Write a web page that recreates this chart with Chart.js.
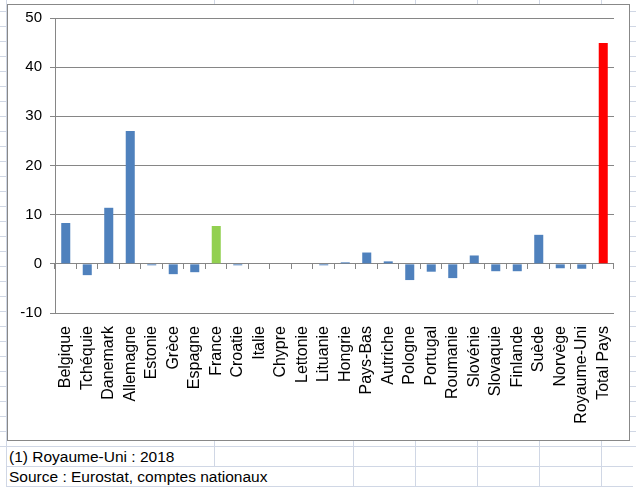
<!DOCTYPE html>
<html><head><meta charset="utf-8">
<script src="https://cdn.jsdelivr.net/npm/chart.js@4.4.1/dist/chart.umd.min.js"></script>
<style>
html,body{margin:0;padding:0;background:#fff;}
body{width:638px;height:495px;position:relative;overflow:hidden;font-family:"Liberation Sans",Arial,sans-serif;}
.rows{position:absolute;left:0;top:-3px;width:636px;height:450px;background:repeating-linear-gradient(to bottom,transparent 0,transparent 14px,#d0d7e5 14px,#d0d7e5 15px);}
.v{position:absolute;top:0;width:1px;background:#d0d7e5;}
.h{position:absolute;left:6px;width:627px;height:1px;background:#d0d7e5;}
.frame{position:absolute;left:7px;top:4px;width:623px;height:437px;box-sizing:border-box;border:1px solid #888;background:#fff;}
.note{position:absolute;left:9px;font-size:15.5px;line-height:20px;color:#000;white-space:nowrap;}
#wrap{position:absolute;left:0;top:0;width:638px;height:495px;}
</style>
</head><body>
<div class="rows"></div>
<div class="v" style="left:6px;height:487px"></div>
<div class="v" style="left:214px;height:466px"></div>
<div class="v" style="left:353px;height:487px"></div>
<div class="v" style="left:415px;height:487px"></div>
<div class="v" style="left:477px;height:487px"></div>
<div class="v" style="left:539px;height:487px"></div>
<div class="v" style="left:601px;height:487px"></div>
<div class="h" style="top:466px"></div>
<div class="h" style="top:486px"></div>
<div class="frame"></div>
<div class="note" style="top:447px">(1) Royaume-Uni : 2018</div>
<div class="note" style="top:467px">Source : Eurostat, comptes nationaux</div>
<div id="wrap"><canvas id="c"></canvas></div>
<script>
const categories = ["Belgique","Tchéquie","Danemark","Allemagne","Estonie","Grèce","Espagne","France","Croatie","Italie","Chypre","Lettonie","Lituanie","Hongrie","Pays-Bas","Autriche","Pologne","Portugal","Roumanie","Slovénie","Slovaquie","Finlande","Suède","Norvège","Royaume-Uni","Total Pays"];
const values = [8.3, -2.3, 11.4, 27.0, -0.3, -2.1, -1.7, 7.7, -0.3, 0, 0, 0, -0.3, 0.3, 2.3, 0.5, -3.3, -1.6, -2.9, 1.7, -1.5, -1.5, 5.9, -0.9, -1.0, 44.9];
const yTicks = [-10, 0, 10, 20, 30, 40, 50];

const BLUE = '#4f81bd', GREEN = '#92d050', RED = '#ff0000', GRID = '#868686';
const barColors = categories.map(c => c === 'France' ? GREEN : (c === 'Total Pays' ? RED : BLUE));

// Category-boundary tick marks hanging below the zero line (Excel-style axis crossing at 0)
const zeroAxisTicks = {
  id: 'zeroAxisTicks',
  afterDatasetsDraw(chart) {
    const xs = chart.scales.x, ys = chart.scales.y, ctx = chart.ctx;
    const y0 = Math.round(ys.getPixelForValue(0));
    const n = categories.length;
    ctx.save();
    ctx.strokeStyle = GRID;
    ctx.lineWidth = 1;
    ctx.beginPath();
    for (let i = 0; i <= n; i++) {
      let bx;
      if (i === 0) bx = xs.left;
      else if (i === n) bx = xs.right;
      else bx = (xs.getPixelForValue(i - 1) + xs.getPixelForValue(i)) / 2;
      bx = Math.round(bx) - 0.5;
      ctx.moveTo(bx, y0);
      ctx.lineTo(bx, y0 + 5);
    }
    ctx.stroke();
    ctx.restore();
  }
};

new Chart(document.getElementById('c'), {
  type: 'bar',
  data: {
    labels: categories,
    datasets: [{
      data: values,
      backgroundColor: barColors,
      borderWidth: 0,
      categoryPercentage: 1.0,
      barPercentage: 0.42
    }]
  },
  options: {
    responsive: true,
    maintainAspectRatio: false,
    animation: false,
    devicePixelRatio: 1,
    layout: { padding: { left: 0, right: 24, top: 18, bottom: 0 } },
    plugins: { legend: { display: false }, tooltip: { enabled: false } },
    scales: {
      x: {
        type: 'category',
        position: 'bottom',
        offset: true,
        grid: { display: false, drawTicks: false },
        border: { display: false },
        ticks: {
          autoSkip: false, minRotation: 90, maxRotation: 90, padding: 13,
          color: '#000', font: { family: '"Liberation Sans", Arial, sans-serif', size: 16 }
        },
        afterFit: s => { s.height = 182; }
      },
      y: {
        min: -10, max: 50,
        afterBuildTicks: s => { s.ticks = yTicks.map(v => ({ value: v })); },
        grid: { color: GRID, lineWidth: 1, tickLength: 5, drawTicks: true },
        border: { display: true, color: GRID, width: 1 },
        ticks: {
          padding: 8, color: '#000',
          font: { family: '"Liberation Sans", Arial, sans-serif', size: 15 }
        },
        afterFit: s => { s.width = 55; }
      }
    }
  },
  plugins: [zeroAxisTicks]
});
</script>
</body></html>
